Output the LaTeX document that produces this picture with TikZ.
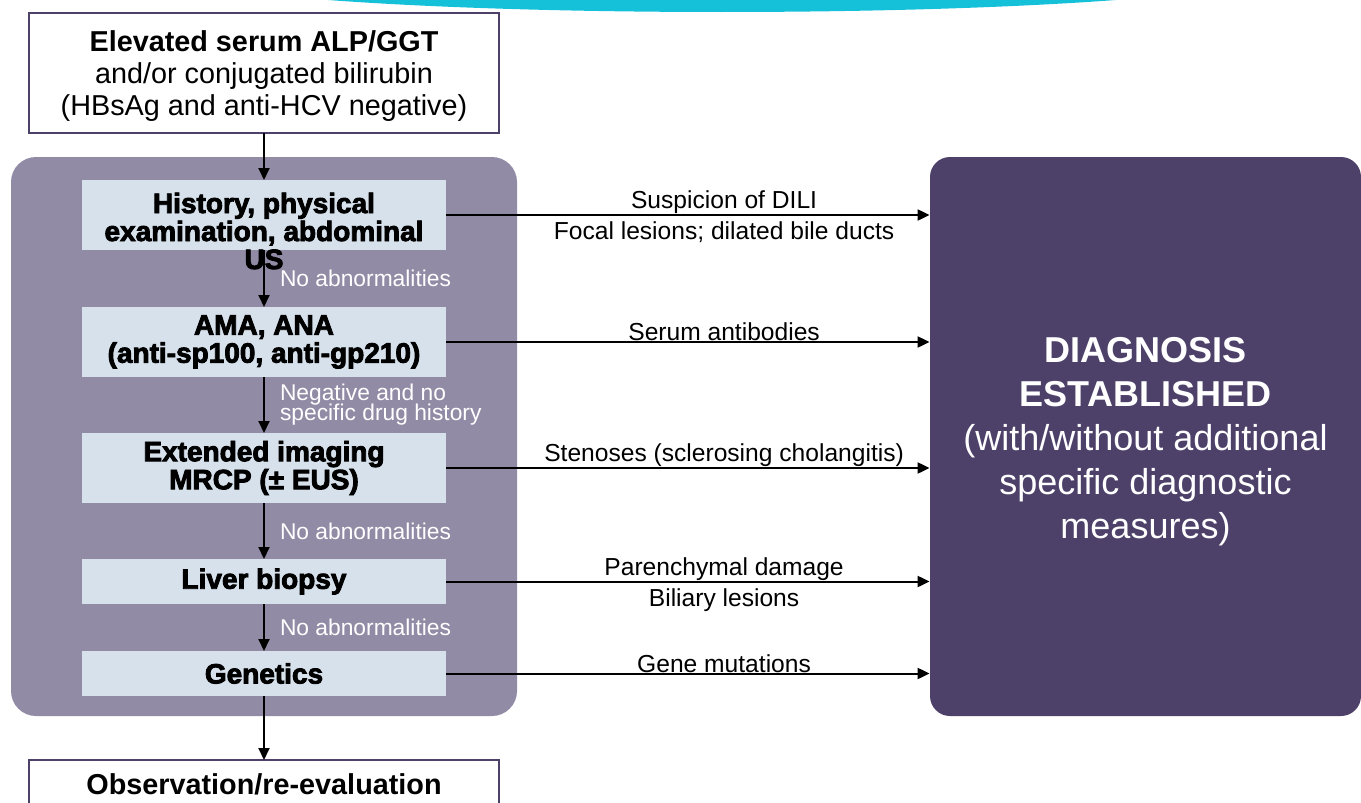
\documentclass[tikz,border=0pt]{standalone}
\usepackage{fontspec}
\setmainfont{Liberation Sans}
\newfontfamily\heavyfont[FakeBold=3]{Liberation Sans Bold}
\usepackage{xcolor}
\usepackage{tikz}
\usetikzlibrary{calc,positioning,arrows.meta,backgrounds}

\definecolor{panelgrey}{RGB}{145,139,165}
\definecolor{stepblue}{RGB}{214,225,236}
\definecolor{diagpurple}{RGB}{77,65,106}
\definecolor{topcyan}{RGB}{20,193,217}

\newcommand{\notefont}{\fontsize{11.4}{10}\selectfont\setlength{\lineskiplimit}{-5pt}}

\tikzset{
    stepbox/.style={fill=stepblue, minimum width=182pt, inner sep=0pt, outer sep=0pt, font=\heavyfont\fontsize{14}{14}\selectfont},
    steptext/.style={inner sep=0pt, font=\heavyfont\fontsize{14}{14}\selectfont},
    outbox/.style={draw=diagpurple, line width=0.6pt, fill=white, outer sep=0pt, minimum width=235pt, font=\fontsize{14.4}{16}\selectfont},
    flow/.style={line width=1pt, -{Triangle[length=6pt,width=5.5pt]}},
    note/.style={right, text=white, inner xsep=7.5pt, inner ysep=0pt, align=left, font=\notefont},
    finding/.style={inner sep=1.5pt, pos=0.575, yshift=-1.5pt, font=\fontsize{12.3}{13}\selectfont},
}

\begin{document}
\begin{tikzpicture}[align=center, x=0.5pt, y=-0.5pt]
    \useasboundingbox (0,0) rectangle (1361,803);
    \fill[topcyan] (722,-26) ellipse [x radius=270pt, y radius=19pt];

    \node [outbox, minimum height=60pt] (elev) at (264,73) {};
    \node (elevtxt) at ($(elev.center)+(0,3)$) [font=\fontsize{14.4}{16}\selectfont] {\textbf{Elevated serum ALP/GGT}\\and/or conjugated bilirubin\\(HBsAg and anti-HCV negative)};
    \node [stepbox, minimum height=35pt, below=23.5pt of elev] (hist) {};
    \node [steptext] (histtxt) at ($(hist.center)+(0,16)$) {History, physical\\examination, abdominal\\US};
    \node [stepbox, minimum height=35pt, below=28.5pt of hist] (ama) {AMA, ANA\\(anti-sp100, anti-gp210)};
    \node [stepbox, minimum height=35pt, below=28pt of ama] (img) {Extended imaging\\MRCP (± EUS)};
    \node [stepbox, minimum height=22.5pt, below=28pt of img] (biop) {Liver biopsy};
    \node [stepbox, minimum height=22.5pt, below=23.5pt of biop] (gen) {Genetics};
    \node [outbox, minimum height=24pt, below=32pt of gen] (obs) {\textbf{Observation/re-evaluation}};

    \node [fill=diagpurple, rounded corners=10pt, minimum width=215.5pt, minimum height=279.5pt] (diag) at (1145.5,436.5) {};
    \node [text=white, font=\fontsize{18}{22}\selectfont] (diagtxt) at ($(diag.center)+(0,5)$) {\textbf{DIAGNOSIS}\\\textbf{ESTABLISHED}\\(with/without additional\\specific diagnostic\\measures)};

    \begin{scope}[on background layer]
        \fill[panelgrey, rounded corners=12.5pt]
            ($(hist.north west)+(-71,-23)$) rectangle
            ($(gen.south east)+(71,20)$);
    \end{scope}

    \draw[flow] (elev) -- (hist);
    \draw[flow] (hist) -- node[note] {No abnormalities} (ama);
    \draw[flow] (ama) -- node[note] {Negative and no\\specific drug history} (img);
    \draw[flow] (img) -- node[note] {No abnormalities} (biop);
    \draw[flow] (biop) -- node[note] {No abnormalities} (gen);
    \draw[flow] (gen) -- (obs);

    \draw[flow] (hist.east) -- node[finding, above] {Suspicion of DILI} node[finding, below] {Focal lesions; dilated bile ducts} (hist.east -| diag.west);
    \draw[flow] (ama.east) -- node[finding, above] {Serum antibodies} (ama.east -| diag.west);
    \draw[flow] (img.east) -- node[finding, above] {Stenoses (sclerosing cholangitis)} (img.east -| diag.west);
    \draw[flow] (biop.east) -- node[finding, above] {Parenchymal damage} node[finding, below] {Biliary lesions} (biop.east -| diag.west);
    \draw[flow] (gen.east) -- node[finding, above] {Gene mutations} (gen.east -| diag.west);

\end{tikzpicture}
\end{document}
